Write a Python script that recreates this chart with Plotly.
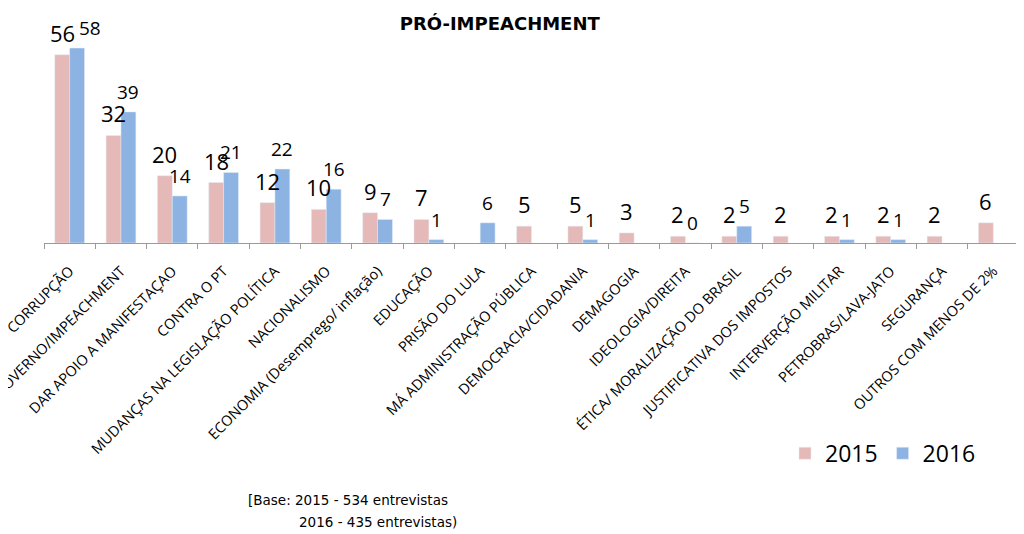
import plotly.graph_objects as go

categorias = [
    "CORRUPÇÃO",
    "CONTRA O GOVERNO/IMPEACHMENT",
    "DAR APOIO A MANIFESTAÇAO",
    "CONTRA O PT",
    "MUDANÇAS NA LEGISLAÇÃO POLÍTICA",
    "NACIONALISMO",
    "ECONOMIA (Desemprego/ inflação)",
    "EDUCAÇÃO",
    "PRISÃO DO LULA",
    "MÁ ADMINISTRAÇÃO PÚBLICA",
    "DEMOCRACIA/CIDADANIA",
    "DEMAGOGIA",
    "IDEOLOGIA/DIREITA",
    "ÉTICA/ MORALIZAÇÃO DO BRASIL",
    "JUSTIFICATIVA DOS IMPOSTOS",
    "INTERVERÇÃO MILITAR",
    "PETROBRAS/LAVA-JATO",
    "SEGURANÇA",
    "OUTROS COM MENOS DE 2%",
]
valores_2015 = [56, 32, 20, 18, 12, 10, 9, 7, None, 5, 5, 3, 2, 2, 2, 2, 2, 2, 6]
valores_2016 = [58, 39, 14, 21, 22, 16, 7, 1, 6, None, 1, None, 0, 5, None, 1, 1, None, None]

ROSA = "#E5B9B7"
AZUL = "#8DB3E2"
FONTE = "Open Sans"

fig = go.Figure()
fig.add_trace(go.Bar(x=categorias, y=valores_2015, name="2015", marker=dict(color=ROSA)))
fig.add_trace(go.Bar(x=categorias, y=valores_2016, name="2016", marker=dict(color=AZUL)))

# rótulos de dados como anotações, para ficar com a folga do original
rotulos = []
series = [(valores_2015, -7.5, 22), (valores_2016, 7.5, 19)]
for vals, dx, tam in series:
    for i, v in enumerate(vals):
        if v is None:
            continue
        desloc = dx
        if vals is valores_2016 and i == 0:
            desloc = 20  # o "58" está afastado para a direita no original
        rotulos.append(dict(
            x=categorias[i], y=v, xref="x", yref="y",
            text=str(v), showarrow=False,
            xanchor="center", yanchor="bottom",
            xshift=desloc, yshift=5,
            font=dict(family=FONTE, size=tam, color="#000000"),
        ))

# a página tem 8px de margem no body, por isso a figura é 8px menor
fig.update_layout(
    width=1016, height=526,
    autosize=False,
    paper_bgcolor="white", plot_bgcolor="white",
    margin=dict(l=36, r=5, t=32, b=291, autoexpand=False),
    barmode="group", bargap=0.42, bargroupgap=0,
    font=dict(family=FONTE, color="#000000"),
    title=dict(
        text="<b>PRÓ-IMPEACHMENT</b>",
        font=dict(family="DejaVu Sans", size=18, color="#000000"),
        x=0.484, xanchor="center", y=0.970, yanchor="middle",
    ),
    xaxis=dict(
        tickangle=-45,
        tickfont=dict(family=FONTE, size=14.5, color="#000000"),
        ticklabelstandoff=13,
        showline=True, linecolor="#9A9A9A", linewidth=1,
        ticks="outside", tickson="boundaries", ticklen=5, tickcolor="#9A9A9A",
        showgrid=False, automargin=False,
    ),
    yaxis=dict(
        range=[0, 60.4], visible=False, showgrid=False,
    ),
    legend=dict(
        orientation="h", x=0.76, y=-0.93, xanchor="left", yanchor="top",
        font=dict(family=FONTE, size=23, color="#000000"),
        bgcolor="rgba(0,0,0,0)",
    ),
    showlegend=True,
    annotations=rotulos + [
        dict(text="[Base: 2015 - 534 entrevistas", xref="paper", yref="paper",
             x=0.207, y=-1.266, xanchor="left", yanchor="middle", showarrow=False,
             font=dict(family="DejaVu Sans", size=13.5, color="#000000")),
        dict(text="2016 - 435 entrevistas)", xref="paper", yref="paper",
             x=0.259, y=-1.375, xanchor="left", yanchor="middle", showarrow=False,
             font=dict(family="DejaVu Sans", size=13.5, color="#000000")),
    ],
)

fig.write_html("out.html")
